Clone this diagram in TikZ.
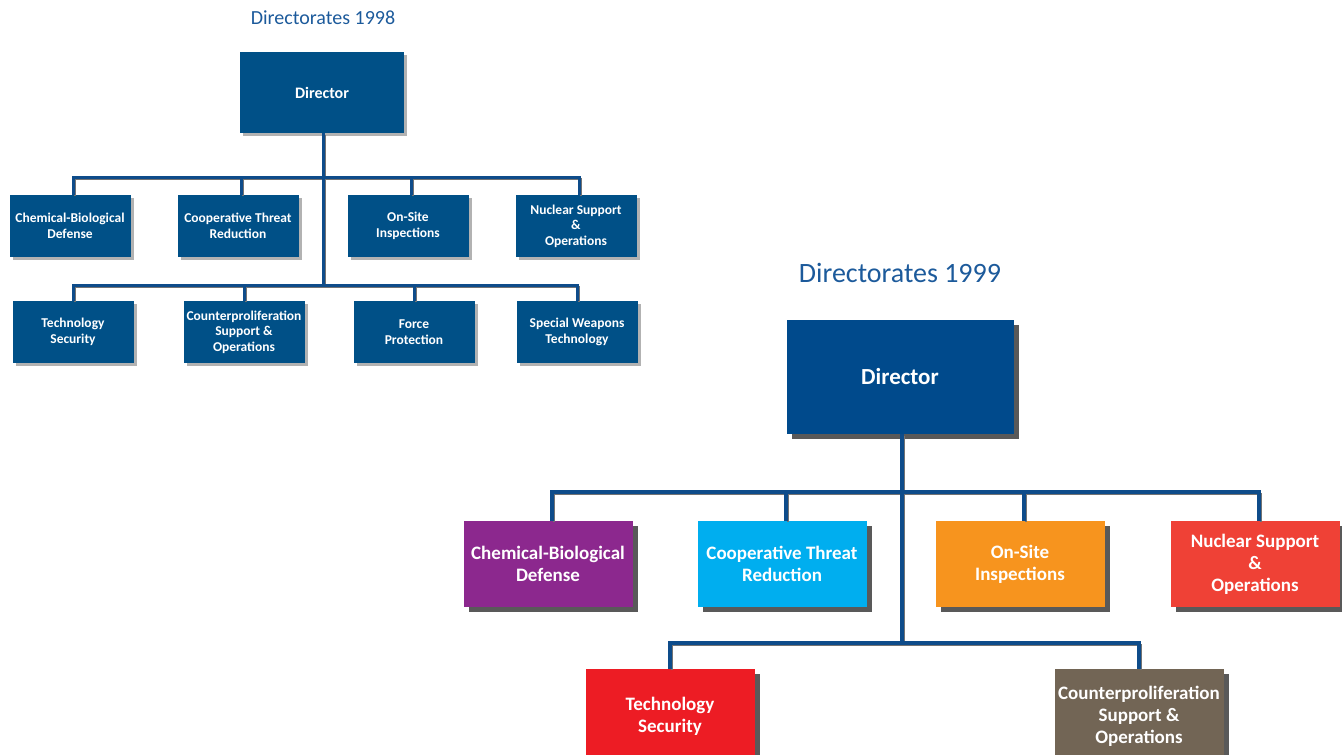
\documentclass[tikz,border=0pt]{standalone}
\usepackage{fontspec}
\setmainfont{Carlito}
\usetikzlibrary{shadows}
\definecolor{boxblue}{RGB}{0,80,135}
\definecolor{dirblue}{RGB}{0,74,140}
\definecolor{titleblue}{RGB}{28,90,155}
\definecolor{linkblue}{RGB}{14,76,138}
\definecolor{cbpurple}{RGB}{140,40,142}
\definecolor{ctcyan}{RGB}{0,174,239}
\definecolor{osorange}{RGB}{247,148,30}
\definecolor{nsred}{RGB}{239,65,54}
\definecolor{tsred}{RGB}{237,28,36}
\definecolor{cpbrown}{RGB}{114,101,85}
\tikzset{
  box98/.style={rectangle,fill=boxblue,text=white,align=center,inner sep=0pt,
    font=\bfseries\fontsize{13.5}{15.5}\selectfont,minimum width=121pt,minimum height=62pt,
    drop shadow={shadow xshift=3pt,shadow yshift=-3pt,fill=black!30,opacity=1}},
  box99/.style={rectangle,text=white,align=center,inner sep=0pt,
    font=\bfseries\fontsize{19}{22}\selectfont,minimum width=169pt,minimum height=86pt,
    drop shadow={shadow xshift=5pt,shadow yshift=-5pt,fill=black!65,opacity=1}},
  link/.style={draw=linkblue,line width=3pt,
    preaction={draw=black!55,line width=2pt,transform canvas={xshift=1.5pt,yshift=-1.5pt}}},
  title/.style={text=titleblue}
}

\begin{document}
\begin{tikzpicture}[x=1pt,y=-1pt]
\useasboundingbox (0,0) rectangle (1342,755);

% 1998
\node[title,font=\fontsize{20}{24}\selectfont] (t98) at (323,18) {Directorates 1998};
\coordinate (T1) at (323,177);
\coordinate (T2) at (323,285);
\begin{scope}[every node/.style={box98}]
\node[font=\bfseries\fontsize{16}{18}\selectfont,minimum width=164pt,minimum height=81pt] (dir98) at (322,92.5) {Director};
\node (cb98) at (70,226) {Chemical-Biological\\Defense};
\node (ct98) at (238,226) {Cooperative Threat\\Reduction};
\node (os98) at (408,226) {On-Site\\Inspections};
\node (ns98) at (576,226) {Nuclear Support\\\&\\Operations};
\node (ts98) at (73,332) {Technology\\Security};
\node (cp98) at (244,332) {Counterproliferation\\Support \&\\Operations};
\node (fp98) at (414,332) {Force\\Protection};
\node (sw98) at (577,332) {Special Weapons\\Technology};
\end{scope}
\draw[link] (dir98.south -| T1) -- (T2)
  ([xshift=3pt]cb98.north) |- (T1) -| ([xshift=3pt]ns98.north)
  ([xshift=3pt]ct98.north) -- ([xshift=3pt]ct98.north |- T1)
  ([xshift=3pt]os98.north) -- ([xshift=3pt]os98.north |- T1)
  (ts98.north) |- (T2) -| (sw98.north)
  (cp98.north) -- (cp98.north |- T2)
  (fp98.north) -- (fp98.north |- T2);

% 1999
\node[title,font=\fontsize{28}{32}\selectfont] (t99) at (900,273) {Directorates 1999};
\coordinate (J1) at (902,492);
\coordinate (J2) at (902,643);
\begin{scope}[every node/.style={box99}]
\node[fill=dirblue,font=\bfseries\fontsize{23}{26}\selectfont,minimum width=227pt,minimum height=114pt] (dir99) at (900,377) {Director};
\node[fill=cbpurple] (cb99) at (548,564) {Chemical-Biological\\Defense};
\node[fill=ctcyan] (ct99) at (782,564) {Cooperative Threat\\Reduction};
\node[fill=osorange] (os99) at (1020,564) {On-Site\\Inspections};
\node[fill=nsred] (ns99) at (1255,564) {Nuclear Support\\\&\\Operations};
\node[fill=tsred,minimum height=94pt] (ts99) at (670,716) {Technology\\Security};
\node[fill=cpbrown,minimum height=94pt] (cp99) at (1139,716) {Counterproliferation\\Support \&\\Operations};
\end{scope}
\draw[link,line width=3.5pt] (dir99.south -| J1) -- (J2)
  ([xshift=4pt]cb99.north) |- (J1) -| ([xshift=4pt]ns99.north)
  ([xshift=4pt]ct99.north) -- ([xshift=4pt]ct99.north |- J1)
  ([xshift=4pt]os99.north) -- ([xshift=4pt]os99.north |- J1)
  (ts99.north) |- (J2) -| (cp99.north);
\end{tikzpicture}
\end{document}
